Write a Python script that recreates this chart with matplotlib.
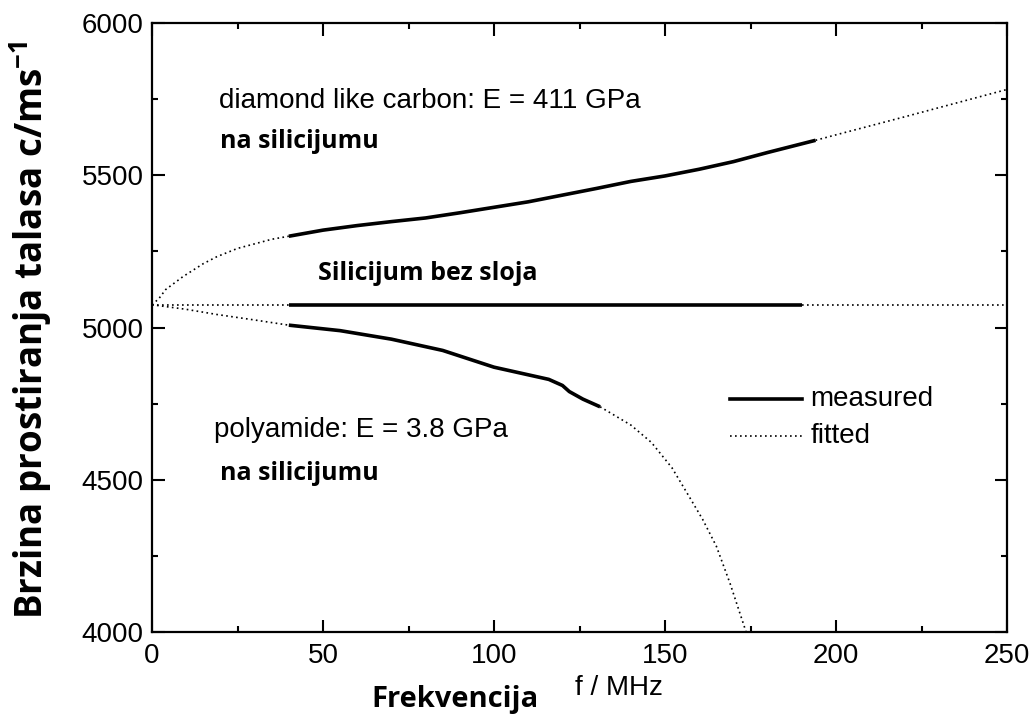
import numpy as np
import matplotlib
matplotlib.use('Agg')
import matplotlib.pyplot as plt

# Measured segments (f in MHz, velocity in m/s)
dlc_meas_f = [40, 50, 60, 70, 80, 90, 100, 110, 120, 130, 140, 150, 160, 170, 180, 187, 194]
dlc_meas_v = [5300, 5320, 5335, 5348, 5360, 5377, 5395, 5413, 5435, 5457, 5480, 5498, 5520, 5545, 5575, 5595, 5615]
si_meas_f = [40, 190]
si_meas_v = [5075, 5075]
pa_meas_f = [40, 55, 70, 85, 100, 110, 116, 120, 122, 126, 131]
pa_meas_v = [5008, 4990, 4962, 4925, 4870, 4845, 4830, 4810, 4790, 4765, 4740]

# Fitted curves outside the measured range (low / high part)
dlc_fit_lo_f = [0, 2, 4, 9, 15, 19, 25, 29, 35, 40]
dlc_fit_lo_v = [5075, 5095, 5125, 5167, 5210, 5233, 5260, 5272, 5290, 5300]
dlc_fit_hi_f = [194, 200, 220, 250]
dlc_fit_hi_v = [5615, 5633, 5692, 5782]
si_fit_lo_f = [0, 40]
si_fit_lo_v = [5075, 5075]
si_fit_hi_f = [190, 250]
si_fit_hi_v = [5075, 5075]
pa_fit_lo_f = [0, 10, 19, 30, 40]
pa_fit_lo_v = [5075, 5060, 5043, 5025, 5008]
pa_fit_hi_f = [131, 140, 146, 152, 157, 161, 165, 169, 174]
pa_fit_hi_v = [4740, 4680, 4623, 4540, 4446, 4370, 4282, 4160, 3990]

helv = ['Liberation Sans', 'DejaVu Sans']
bold = ['Open Sans', 'DejaVu Sans']
plt.rcParams['mathtext.fontset'] = 'custom'
plt.rcParams['mathtext.bf'] = 'Open Sans:bold'
plt.rcParams['mathtext.rm'] = 'Open Sans'

fig = plt.figure(figsize=(10.34, 7.2), dpi=100)
ax = fig.add_axes([0.147, 0.122, 0.827, 0.846])

dot = dict(color='black', lw=1.2, ls=(0, (1, 2)))
for f, v in [(dlc_fit_lo_f, dlc_fit_lo_v), (dlc_fit_hi_f, dlc_fit_hi_v),
             (si_fit_lo_f, si_fit_lo_v), (si_fit_hi_f, si_fit_hi_v),
             (pa_fit_lo_f, pa_fit_lo_v), (pa_fit_hi_f, pa_fit_hi_v)]:
    ax.plot(f, v, **dot)
for f, v in [(dlc_meas_f, dlc_meas_v), (si_meas_f, si_meas_v), (pa_meas_f, pa_meas_v)]:
    ax.plot(f, v, color='black', lw=2.6, solid_capstyle='butt')

ax.set_xlim(0, 250)
ax.set_ylim(4000, 6000)
ax.set_xticks([0, 50, 100, 150, 200, 250])
ax.set_xticks([25, 75, 125, 175, 225], minor=True)
ax.set_yticks([4000, 4500, 5000, 5500, 6000])
ax.set_yticks([4250, 4750, 5250, 5750], minor=True)
ax.tick_params(which='both', direction='in', top=True, right=True, width=1.5,
               labelsize=20)
ax.tick_params(axis='x', pad=8)
ax.tick_params(axis='y', pad=6)
ax.tick_params(which='major', length=9)
ax.tick_params(which='minor', length=4.5)
for lab in ax.get_xticklabels() + ax.get_yticklabels():
    lab.set_family(helv)
for s in ax.spines.values():
    s.set_linewidth(1.6)

# annotations
ax.text(19.5, 5745, 'diamond like carbon: E = 411 GPa', family=helv, fontsize=20, va='center')
ax.text(20, 5610, 'na silicijumu', family=bold, fontsize=18, weight='bold', va='center')
ax.text(48.5, 5178, 'Silicijum bez sloja', family=bold, fontsize=18, weight='bold', va='center')
ax.text(18, 4665, 'polyamide: E = 3.8 GPa', family=helv, fontsize=20, va='center')
ax.text(20, 4520, 'na silicijumu', family=bold, fontsize=18, weight='bold', va='center')

# legend drawn by hand in data coordinates
ax.plot([169, 190], [4767, 4767], color='black', lw=2.6)
ax.plot([169, 190], [4643, 4643], **dot)
ax.text(192.5, 4767, 'measured', family=helv, fontsize=20, va='center')
ax.text(192.5, 4643, 'fitted', family=helv, fontsize=20, va='center')

fig.text(0.03, 0.542, 'Brzina prostiranja talasa c/ms$^{\\mathbf{-1}}$', rotation=90,
         family=bold, fontsize=26.5, weight='bold', ha='center', va='center')
fig.text(0.44, 0.028, 'Frekvencija', family=bold, fontsize=21, weight='bold',
         ha='center', va='center')
fig.text(0.599, 0.044, 'f / MHz', family=helv, fontsize=20, ha='center', va='center')

fig.savefig('out.png', dpi=100)
